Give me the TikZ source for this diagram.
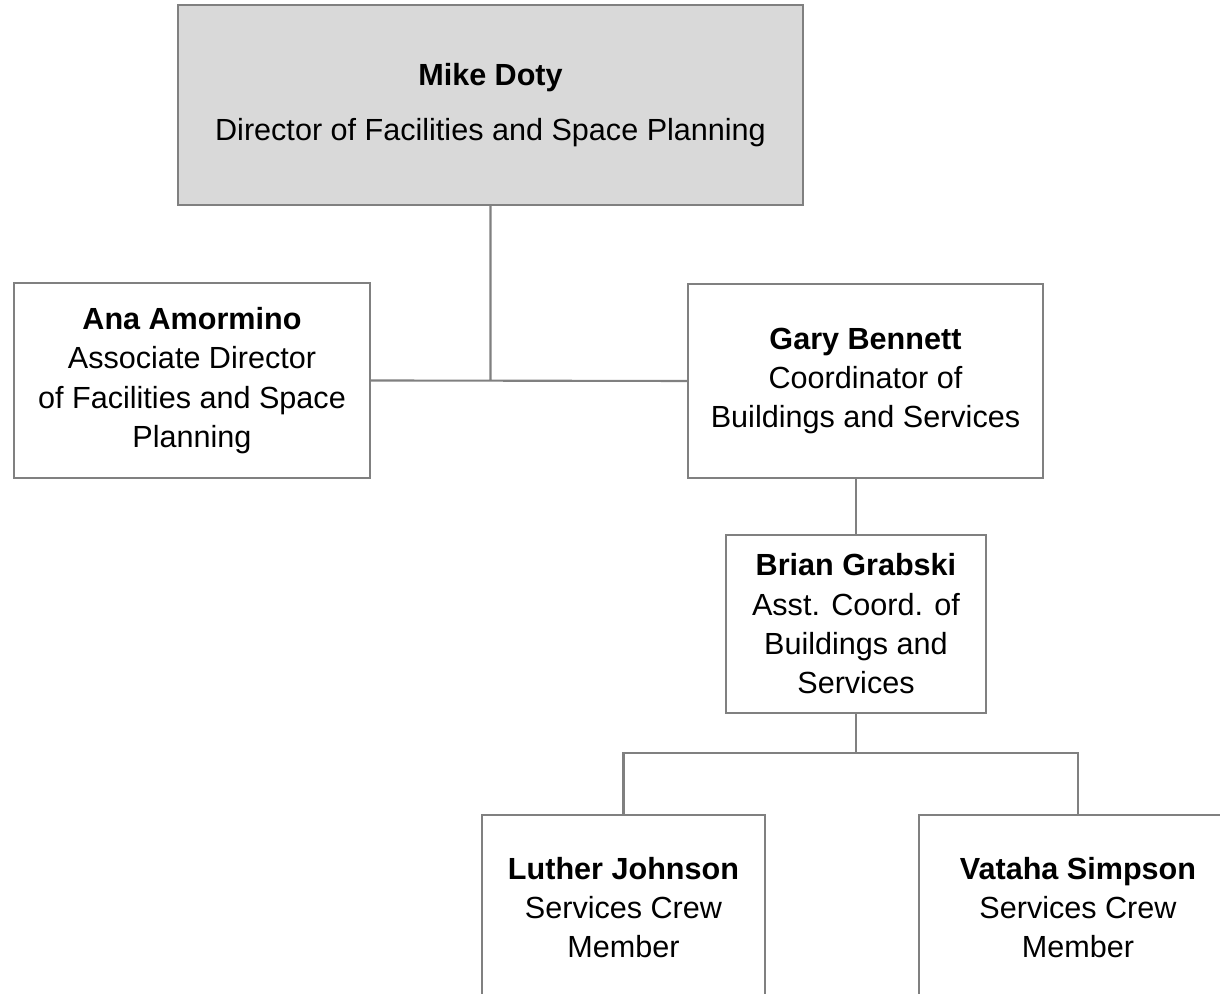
\documentclass[tikz,border=0pt]{standalone}
\usepackage{fontspec}
\setmainfont{Liberation Sans}
\usetikzlibrary{positioning,calc}
\definecolor{boxline}{RGB}{128,128,128}
\definecolor{bossfill}{RGB}{217,217,217}
\tikzset{person/.style={rectangle,draw=boxline,line width=0.6pt,fill=white,align=center,inner sep=0pt,font=\fontsize{8.7}{11.2}\selectfont},
link/.style={draw=boxline,line width=0.6pt}}
\begin{document}
\begin{tikzpicture}
\path[use as bounding box,clip] (0,0) rectangle (12.2,-9.94);

\node[person,fill=bossfill,minimum width=6.25cm,minimum height=2cm] (doty) at (4.905,-1.05) {\textbf{Mike Doty}\\[4.3pt] Director of Facilities and Space Planning};
\node[person,minimum width=3.56cm,minimum height=1.95cm] (amormino) at (1.92,-3.805) {\textbf{Ana Amormino}\\ Associate Director\\ of Facilities and Space\\ Planning};
\node[person,minimum width=3.55cm,minimum height=1.94cm] (bennett) at (8.655,-3.81) {\textbf{Gary Bennett}\\ Coordinator of\\ Buildings and Services};
\node[person,minimum width=2.6cm,minimum height=1.78cm] (grabski) at (8.56,-6.24) {\textbf{Brian Grabski}\\ Asst. Coord. of\\ Buildings and\\ Services};
\node[person,minimum width=2.83cm,minimum height=1.85cm] (johnson) at (6.235,-9.075) {\textbf{Luther Johnson}\\ Services Crew\\ Member};
\node[person,minimum width=3.18cm,minimum height=1.85cm] (simpson) at (10.78,-9.075) {\textbf{Vataha Simpson}\\ Services Crew\\ Member};
\coordinate (split) at ($(grabski.south)+(0,-0.39)$);

\draw[link] (doty.south)--(doty.south |- amormino.east) (amormino.east)--(bennett.west);
\draw[link] (grabski.north)--(grabski.north |- bennett.south);
\draw[link] (grabski.south)--(split);
\draw[link] (johnson.north)--(johnson.north |- split)--(simpson.north |- split)--(simpson.north);
\end{tikzpicture}
\end{document}
